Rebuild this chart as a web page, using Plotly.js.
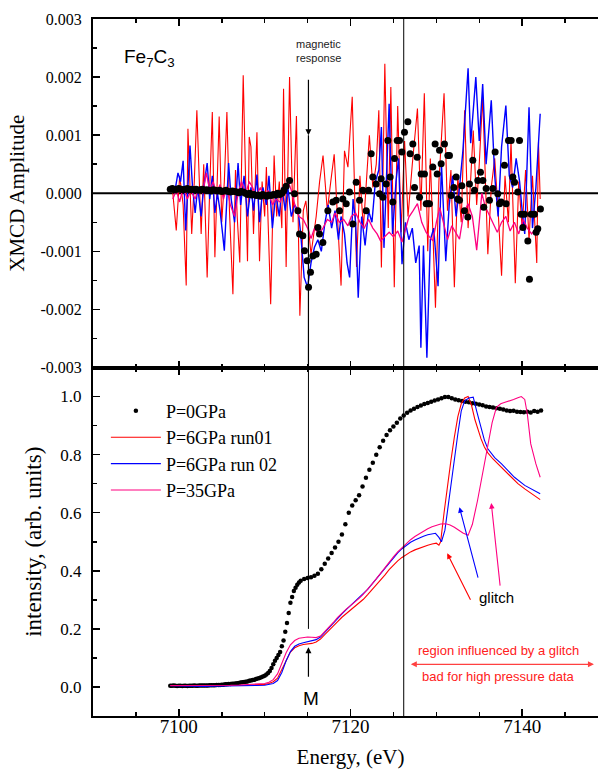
<!DOCTYPE html>
<html><head><meta charset="utf-8">
<script src="https://cdn.plot.ly/plotly-3.0.1.min.js"></script>
<style>html,body{margin:0;padding:0;overflow:hidden;background:#fff}#chart{width:610px;height:774px}</style>
</head><body><div id="chart"></div>
<script>
// ---------- Bottom panel: normalized XANES intensity ----------
const seriesNames = ['P=0GPa', 'P=6GPa run01', 'P=6GPa run 02', 'P=35GPa'];

const e0 = [7099.0,7099.2,7099.4,7099.6,7099.8,7100.0,7100.2,7100.4,7100.6,7100.8,
  7101.0,7101.2,7101.4,7101.6,7101.8,7102.0,7102.2,7102.4,7102.6,7102.8,7103.0,
  7103.2,7103.4,7103.6,7103.8,7104.0,7104.2,7104.4,7104.6,7104.8,7105.0,7105.2,7105.4,7105.6,7105.8,7106.0,
  7106.2,7106.4,7106.6,7106.8,7107.0,7107.2,7107.4,7107.6,7107.8,7108.0,
  7108.2,7108.4,7108.6,7108.8,7109.0,7109.2,7109.4,7109.6,7109.8,7110.0,
  7110.2,7110.4,7110.6,7110.8,7111.0,7111.2,7111.4,7111.6,7111.8,7112.0,
  7112.2,7112.4,7112.6,7112.8,7113.0,7113.2,7113.4,7113.6,7113.8,7114.0,
  7114.2,7114.6,
  7115.0,7115.4,7115.8,7116.2,7116.6,7117.0,7117.4,7117.8,7118.2,7118.6,
  7119.0,7119.4,7119.8,7120.2,7120.6,7121.0,7121.4,7121.8,7122.2,7122.6,
  7123.0,7123.4,7123.8,7124.2,7124.6,7125.0,7125.4,7125.8,7126.2,7126.6,
  7127.0,7127.4,7127.8,7128.2,7128.6,7129.0,7129.4,7129.8,7130.2,7130.6,
  7131.0,7131.4,7131.8,7132.2,7132.6,7133.0,7133.4,7133.8,7134.2,7134.6,
  7135.0,7135.4,7135.8,7136.2,7136.6,7137.0,7137.4,7137.8,7138.2,7138.6,
  7139.0,7139.4,7139.8,7140.2,7140.6,7141.0,7141.4,7141.8,7142.2];
const i0 = [0.004,0.004,0.005,0.004,0.003,0.004,0.004,0.003,0.004,0.004,
  0.003,0.004,0.004,0.004,0.005,0.004,0.004,0.005,0.005,0.005,0.005,
  0.005,0.005,0.006,0.006,0.006,0.006,0.007,0.007,0.007,0.008,0.008,0.009,0.009,0.010,0.010,
  0.011,0.011,0.012,0.013,0.014,0.015,0.016,0.017,0.018,0.019,
  0.021,0.022,0.024,0.025,0.027,0.029,0.031,0.033,0.036,0.039,
  0.043,0.048,0.055,0.065,0.078,0.090,0.100,0.110,0.120,0.140,
  0.160,0.190,0.220,0.255,0.290,0.310,0.330,0.342,0.352,0.360,
  0.366,0.372,
  0.375,0.378,0.383,0.390,0.405,0.424,0.442,0.461,0.480,0.500,
  0.525,0.560,0.600,0.625,0.643,0.660,0.690,0.720,0.748,0.772,
  0.800,0.825,0.848,0.868,0.884,0.897,0.910,0.924,0.935,0.944,
  0.952,0.958,0.964,0.969,0.974,0.978,0.982,0.986,0.990,0.994,
  0.998,0.998,0.994,0.990,0.987,0.985,0.982,0.980,0.977,0.975,
  0.973,0.970,0.966,0.964,0.962,0.960,0.958,0.955,0.952,0.950,
  0.951,0.948,0.947,0.946,0.948,0.945,0.950,0.948,0.952];

const eR = [7099.0,7100,7101,7102,7103,7104,7105,7106,7107,7108,
  7109,7110,7110.5,7111.0,7111.5,7112.0,7112.5,7113.0,7113.5,7114.0,
  7114.5,7115.0,7115.5,7116.0,7116.5,7117.0,7117.5,7118.0,7118.5,7119.0,
  7119.5,7120.0,7120.5,7121.0,7121.5,7122.0,7122.5,7123.0,7123.5,7124.0,
  7124.5,7125.0,7125.5,7126.0,7126.5,7127.0,7127.5,7128.0,7128.5,7129.0,
  7129.5,7130.0,7130.3,7130.5,7130.9,7131.3,7131.7,7132.1,7132.5,7132.9,
  7133.3,7133.7,7134.1,7134.5,7134.8,7135.2,7135.6,7136.0,7136.6,7137.2,
  7138.0,7138.7,7139.5,7140.3,7141.2,7142.1];
const iR = [0.004,0.004,0.003,0.004,0.003,0.004,0.004,0.005,0.005,0.006,
  0.007,0.009,0.012,0.018,0.030,0.060,0.095,0.120,0.135,0.142,
  0.146,0.148,0.150,0.155,0.165,0.180,0.196,0.210,0.225,0.240,
  0.252,0.264,0.276,0.288,0.302,0.318,0.334,0.350,0.366,0.385,
  0.404,0.420,0.434,0.446,0.456,0.465,0.472,0.478,0.484,0.488,
  0.492,0.495,0.488,0.500,0.600,0.700,0.780,0.860,0.930,0.975,
  0.995,1.000,0.970,0.920,0.890,0.855,0.826,0.806,0.785,0.768,
  0.742,0.722,0.700,0.682,0.662,0.645];

const eB = [7099.0,7100,7101,7102,7103,7104,7105,7106,7107,7108,
  7109,7110,7110.5,7111.0,7111.5,7112.0,7112.5,7113.0,7113.5,7114.0,
  7114.5,7115.0,7115.5,7116.0,7116.5,7117.0,7117.5,7118.0,7118.5,7119.0,
  7119.5,7120.0,7120.5,7121.0,7121.5,7122.0,7122.5,7123.0,7123.5,7124.0,
  7124.5,7125.0,7125.5,7126.0,7126.5,7127.0,7127.5,7128.0,7128.5,7129.0,
  7129.5,7129.9,7130.3,7130.6,7131.0,7131.3,7131.7,7132.1,7132.5,7132.9,
  7133.3,7133.8,7134.3,7134.7,7135.2,7135.6,7136.0,7136.8,7137.6,7138.3,
  7139.1,7140.3,7141.2,7142.1];
const iB = [0.004,0.003,0.003,0.003,0.002,0.003,0.003,0.003,0.004,0.004,
  0.005,0.006,0.008,0.012,0.022,0.050,0.090,0.122,0.140,0.148,
  0.152,0.155,0.158,0.163,0.172,0.188,0.205,0.222,0.238,0.252,
  0.266,0.280,0.292,0.305,0.320,0.336,0.354,0.372,0.392,0.412,
  0.430,0.447,0.462,0.476,0.488,0.498,0.506,0.513,0.519,0.524,
  0.528,0.529,0.515,0.500,0.540,0.610,0.700,0.780,0.870,0.950,
  0.985,0.995,0.998,0.950,0.894,0.850,0.820,0.790,0.768,0.745,
  0.722,0.694,0.680,0.665];

const eP = [7099.0,7100,7101,7102,7103,7104,7105,7106,7107,7108,
  7109,7110,7110.5,7111.0,7111.5,7112.0,7112.5,7113.0,7113.5,7114.0,
  7114.5,7115.0,7115.5,7116.0,7116.5,7117.0,7117.5,7118.0,7118.5,7119.0,
  7119.5,7120.0,7120.5,7121.0,7121.5,7122.0,7122.5,7123.0,7123.5,7124.0,
  7124.5,7125.0,7125.5,7126.0,7126.5,7127.0,7127.5,7128.0,7128.5,7129.0,
  7129.5,7130.0,7130.5,7131.1,7131.6,7132.1,7132.6,7133.1,7133.7,7134.2,
  7134.8,7135.4,7136.0,7136.5,7137.0,7137.5,7138.0,7138.5,7139.0,7139.5,
  7139.9,7140.3,7140.6,7141.0,7141.3,7141.6,7142.1];
const iP = [0.005,0.005,0.004,0.005,0.004,0.005,0.005,0.006,0.007,0.008,
  0.009,0.012,0.016,0.025,0.045,0.080,0.118,0.145,0.160,0.168,
  0.171,0.172,0.171,0.170,0.175,0.190,0.206,0.222,0.240,0.255,
  0.268,0.280,0.292,0.305,0.320,0.336,0.354,0.372,0.392,0.412,
  0.430,0.448,0.465,0.480,0.494,0.507,0.518,0.528,0.537,0.545,
  0.552,0.557,0.561,0.562,0.558,0.550,0.540,0.530,0.522,0.560,
  0.642,0.740,0.837,0.910,0.963,0.975,0.980,0.984,0.990,0.996,
  1.000,0.990,0.940,0.837,0.800,0.768,0.722];

// ---------- Top panel: XMCD amplitude (values in units of 1e-3) ----------
const xmE0 = [7099.0,7099.25,7099.5,7099.75,7100.0,7100.25,7100.5,7100.75,7101.0,7101.25,
  7101.5,7101.75,7102.0,7102.25,7102.5,7102.75,7103.0,7103.25,7103.5,7103.75,
  7104.0,7104.25,7104.5,7104.75,7105.0,7105.25,7105.5,7105.75,7106.0,7106.25,
  7106.5,7106.75,7107.0,7107.25,7107.5,7107.75,7108.0,7108.25,7108.5,7108.75,
  7109.0,7109.25,7109.5,7109.75,7110.0,7110.25,7110.5,7110.75,7111.0,7111.25,
  7111.5,7111.75,7112.0,7112.25,7112.5,7112.9,
  7113.48,7113.87,7114.06,7114.45,7114.64,7114.95,7115.11,7115.34,7115.61,7116.0,
  7116.2,7116.39,7116.78,7117.36,7117.94,7118.33,7118.72,7119.11,7119.5,7119.88,
  7120.27,7120.66,7121.05,7121.44,7121.83,7122.1,7122.41,7122.6,7122.99,7123.38,
  7123.57,7123.77,7124.16,7124.35,7124.62,7124.93,7125.13,7125.44,7125.71,7125.98,
  7126.29,7126.68,7126.95,7127.26,7127.46,7127.77,7128.04,7128.23,7128.62,7128.82,
  7129.01,7129.2,7129.59,7129.86,7130.1,7130.37,7130.56,7130.95,7131.34,7131.53,
  7131.73,7132.04,7132.31,7132.5,7132.7,7132.97,7133.28,7133.67,7133.86,7134.25,
  7134.45,7134.83,7135.14,7135.42,7135.53,7135.8,7136.19,7136.58,7136.85,7137.16,
  7137.36,7137.55,7137.94,7138.13,7138.41,7138.72,7138.91,7139.11,7139.49,7139.69,
  7139.88,7140.08,7140.27,7140.66,7140.85,7141.05,7141.43,7141.63,7141.82,7142.13];
const xm0 = [0.07,0.08,0.06,0.07,0.08,0.07,0.06,0.07,0.08,0.06,
  0.07,0.06,0.07,0.05,0.06,0.07,0.05,0.06,0.05,0.04,
  0.06,0.05,0.04,0.05,0.03,0.04,0.05,0.03,0.02,0.04,
  0.03,0.02,0.01,0.03,0.02,0.00,-0.02,0.00,-0.03,-0.02,
  -0.04,-0.03,-0.05,-0.02,-0.04,-0.05,-0.03,-0.04,-0.02,-0.03,
  0.00,-0.02,0.00,0.05,0.12,0.22,
  -0.01,-0.30,-0.70,-0.73,-0.99,-1.16,-1.62,-1.36,-1.08,-1.05,
  -0.59,-0.70,-0.85,-0.30,-0.15,-0.12,-0.30,-0.10,-0.18,0.02,
  -0.53,0.19,-0.12,0.05,-0.30,0.05,0.68,0.28,0.16,-0.01,
  0.25,-0.07,0.16,0.91,0.28,-0.15,0.60,0.91,0.91,0.71,
  1.05,1.23,0.68,0.85,0.10,0.62,-0.07,0.33,0.33,-0.18,
  -0.18,-0.18,0.45,0.85,0.33,0.74,0.51,0.85,0.65,0.65,
  -0.04,0.10,0.28,-0.10,-0.12,0.13,-0.30,-0.41,0.16,0.57,
  0.05,0.22,0.36,0.22,-0.24,0.08,-0.12,0.08,0.71,-0.01,
  -0.18,-0.15,0.48,-0.18,0.91,0.91,0.28,0.19,0.02,0.91,
  -0.36,-0.59,-0.36,-0.82,-1.48,-0.36,-0.36,-0.67,-0.61,-0.27];

const xmER = [7099.3,7099.7,7100.1,7100.5,7100.86,7101.06,7101.5,7101.8,7102.1,7102.6,
  7102.9,7103.3,7103.6,7103.9,7104.2,7104.5,7104.7,7105.0,7105.3,7105.6,
  7105.9,7106.3,7106.6,7106.8,7107.1,7107.5,7108.0,7108.2,7108.4,7108.7,
  7109.1,7109.4,7109.7,7110.0,7110.2,7110.7,7111.1,7111.4,7111.7,7112.0,
  7112.2,7112.5,7112.9,7113.3,7113.7,7114.1,7114.5,7114.8,7115.4,7116.0,
  7116.4,7116.8,7117.3,7117.7,7118.1,7118.9,7119.3,7119.7,7120.2,7120.7,
  7121.1,7121.5,7121.8,7122.2,7122.6,7123.0,7123.3,7123.6,7124.0,7124.4,
  7124.7,7125.1,7125.5,7125.9,7126.3,7126.7,7127.2,7127.8,7128.2,7128.6,
  7129.0,7129.3,7129.9,7130.3,7130.9,7131.3,7131.7,7132.1,7132.5,7132.9,
  7133.3,7133.7,7134.3,7134.7,7135.0,7135.4,7136.0,7136.4,7136.8,7137.2,
  7137.6,7138.0,7138.4,7138.7,7139.2,7139.6,7140.0,7140.4,7140.8,7141.2,
  7141.7,7141.9,7142.1];
const xmR = [0.00,-0.64,0.30,-0.20,-1.59,1.11,-0.70,0.20,1.43,-0.70,
  0.50,-1.45,0.10,1.40,-1.10,0.30,1.32,-0.50,0.20,1.40,
  -0.30,-1.74,0.40,-0.40,-1.19,2.03,-1.17,0.97,0.80,-0.70,
  1.05,-1.17,0.20,-0.40,0.45,-1.91,0.65,-0.40,0.20,-0.60,
  1.80,-1.27,2.00,-0.50,1.33,-2.11,-0.30,-0.13,-1.05,-0.40,
  0.20,0.65,-0.30,0.20,0.67,-1.59,0.73,0.45,1.66,-1.27,
  0.30,-0.60,0.10,1.00,0.10,0.50,1.43,-1.28,2.23,-0.60,
  1.83,-1.62,1.50,-0.67,0.90,-0.40,0.50,1.46,-0.30,1.72,
  -1.00,0.60,-1.97,0.20,1.72,-0.30,0.40,-1.62,0.30,-0.50,
  1.43,-0.60,1.08,-0.20,0.50,1.66,-1.05,0.10,0.60,-0.30,
  -1.42,0.30,-0.50,0.90,-1.55,0.20,-0.60,0.40,-0.80,0.30,
  -1.20,0.88,-0.10];

const xmEB = [7099.1,7099.5,7099.9,7100.2,7100.5,7100.8,7101.3,7101.6,7101.9,7102.2,
  7102.6,7102.9,7103.3,7103.6,7103.9,7104.2,7104.5,7104.8,7105.1,7105.3,
  7105.8,7106.1,7106.5,7106.9,7107.2,7107.6,7108.0,7108.4,7108.7,7109.1,
  7109.4,7109.8,7110.2,7110.5,7110.9,7111.3,7111.7,7112.0,7112.4,7112.7,
  7113.1,7113.5,7113.9,7114.2,7114.6,7115.0,7115.4,7115.8,7116.2,7116.6,
  7117.0,7117.4,7117.8,7118.2,7118.6,7118.9,7119.3,7119.6,7119.9,7120.3,
  7120.6,7120.9,7121.3,7121.7,7122.1,7122.5,7122.9,7123.3,7123.6,7123.9,
  7124.5,7124.9,7125.3,7125.6,7126.0,7126.4,7126.8,7127.2,7127.6,7128.0,
  7128.2,7128.5,7128.9,7129.3,7129.7,7130.2,7130.6,7131.1,7131.5,7131.9,
  7132.3,7132.7,7133.1,7133.7,7134.0,7134.6,7135.0,7135.4,7135.8,7136.4,
  7136.8,7137.2,7137.6,7138.1,7138.5,7138.9,7139.3,7139.7,7140.0,7140.3,
  7140.8,7141.2,7141.6,7142.1];
const xmB = [0.10,0.00,0.35,0.20,0.56,-0.64,0.82,0.10,-0.34,0.10,
  -0.40,0.10,0.52,-0.10,0.30,-0.34,0.00,-0.30,-0.70,-0.99,
  0.52,-0.10,-0.50,0.52,-0.20,0.30,-0.40,0.10,-0.30,0.32,
  -0.50,0.10,-0.20,0.30,-0.60,0.00,-0.40,0.10,-0.30,0.10,
  -0.40,-0.20,-0.30,-0.70,-1.45,-1.62,-1.20,-0.93,-0.80,-1.00,
  -0.53,-0.20,-0.60,-0.30,-0.80,-0.40,-0.70,-1.20,-1.45,-0.10,
  -0.50,-1.80,-0.40,-0.90,-0.30,-0.50,0.20,0.40,1.14,-0.94,
  1.54,-0.70,0.20,0.60,-1.22,-0.50,-0.80,-0.60,-1.20,-0.90,
  -2.66,-0.90,-2.83,-0.80,-0.60,-1.60,0.50,-1.17,-0.20,0.30,
  -0.40,0.10,0.74,2.15,0.86,2.00,0.90,1.88,0.50,1.60,
  0.30,-0.40,0.80,1.51,0.30,0.10,0.60,0.20,-0.30,-0.70,
  1.48,-0.60,0.10,1.37];

const xmEP = [7099.3,7099.7,7100.1,7100.5,7101.0,7101.4,7101.9,7102.3,7102.8,7103.2,
  7103.6,7104.0,7104.4,7104.8,7105.2,7105.6,7106.0,7106.5,7106.9,7107.3,
  7107.8,7108.2,7108.6,7109.0,7109.5,7110.0,7110.4,7110.9,7111.3,7111.8,
  7112.2,7112.7,7113.1,7113.6,7114.0,7114.5,7115.0,7115.4,7115.8,7116.3,
  7116.8,7117.3,7117.8,7118.2,7118.7,7119.2,7119.7,7120.1,7120.6,7121.1,
  7121.6,7122.1,7122.6,7123.1,7123.5,7124.0,7124.5,7125.0,7125.5,7126.0,
  7126.4,7126.8,7127.3,7127.8,7128.3,7128.8,7129.2,7129.6,7130.0,7130.4,
  7130.9,7131.3,7131.8,7132.3,7132.7,7133.2,7133.7,7134.2,7134.7,7135.0,
  7135.3,7135.7,7136.1,7136.6,7137.1,7137.6,7138.1,7138.6,7139.1,7139.6,
  7140.1,7140.6,7141.1,7141.6,7142.0];
const xmP = [-0.10,0.05,-0.15,0.10,-0.10,0.05,-0.10,0.10,0.00,0.35,
  0.05,0.20,0.00,0.15,-0.10,0.10,-0.20,-0.40,0.00,0.20,
  0.00,0.20,0.10,-0.05,0.10,-0.10,0.05,-0.20,-0.10,-0.15,
  0.00,0.22,0.05,-0.25,-0.40,-0.45,-0.60,-0.78,-0.60,-0.70,
  -0.60,-0.45,-0.50,-0.34,-0.50,-0.45,-0.56,-0.40,-0.34,-0.50,
  -0.60,-0.45,-0.60,-0.70,-0.82,-0.75,-0.67,-0.75,-0.65,-0.84,
  -0.60,-0.41,-0.30,-0.18,-0.50,-0.67,-0.75,-0.82,-0.50,-0.25,
  -0.55,-0.80,-0.56,-0.70,-0.79,-0.33,-0.18,-0.40,-0.98,-0.50,
  0.00,-0.23,-0.35,-0.50,-0.67,-0.50,-0.40,-0.65,-0.50,-0.70,
  -0.45,-0.60,-0.70,-0.60,-0.65];

const yTopTicks = [-0.003,-0.002,-0.001,0,0.001,0.002,0.003];
const yTopTickText = ['-0.003','-0.002','-0.001','0.000','0.001','0.002','0.003'];
const xTicks = [7100,7120,7140];

const M_ENERGY = 7115.1;
const GLITCH_ENERGY = 7126.2;

const RED = '#ff0000', BLUE = '#0000ff', PINK = '#ff0080';
const SERIF = 'Liberation Serif, Times New Roman, serif';
const SANS = 'Liberation Sans, Arial, sans-serif';
const milli = a => a.map(v => v / 1000);

const traces = [
  // top panel
  {x: xmER, y: milli(xmR), xaxis: 'x2', yaxis: 'y2', mode: 'lines', line: {color: RED, width: 1.1}, showlegend: false},
  {x: xmEB, y: milli(xmB), xaxis: 'x2', yaxis: 'y2', mode: 'lines', line: {color: BLUE, width: 1.4}, showlegend: false},
  {x: xmEP, y: milli(xmP), xaxis: 'x2', yaxis: 'y2', mode: 'lines', line: {color: PINK, width: 1.3}, showlegend: false},
  {x: xmE0, y: milli(xm0), xaxis: 'x2', yaxis: 'y2', mode: 'markers', marker: {color: '#000', size: 7}, showlegend: false},
  // bottom panel
  {x: e0, y: i0, name: seriesNames[0], mode: 'markers', marker: {color: '#000', size: 4.5}},
  {x: eR, y: iR, name: seriesNames[1], mode: 'lines', line: {color: RED, width: 1.1}},
  {x: eB, y: iB, name: seriesNames[2], mode: 'lines', line: {color: BLUE, width: 1.1}},
  {x: eP, y: iP, name: seriesNames[3], mode: 'lines', line: {color: PINK, width: 1.1}}
];

const axBase = {
  showline: true, linecolor: '#000', linewidth: 2, mirror: 'ticks',
  ticks: 'inside', ticklen: 7, tickwidth: 1.5, tickcolor: '#000',
  showgrid: false, zeroline: false, automargin: false
};

const layout = {
  width: 610, height: 774,
  margin: {l: 93, r: 2, t: 19, b: 58},
  paper_bgcolor: '#fff', plot_bgcolor: '#fff',
  showlegend: true,
  font: {family: SERIF, color: '#000'},
  xaxis: Object.assign({}, axBase, {
    anchor: 'y', domain: [0, 1], range: [7090, 7150],
    tickvals: xTicks, tickfont: {family: SERIF, size: 19}, ticklabelstandoff: -8,
    minor: {dtick: 5, tick0: 7100, ticks: 'inside', ticklen: 4, tickwidth: 1.5, tickcolor: '#000'},
    title: {text: 'Energy, (eV)', font: {family: SERIF, size: 21}, standoff: 14}
  }),
  yaxis: Object.assign({}, axBase, {
    anchor: 'x', domain: [0, 0.5], range: [-0.1, 1.1],
    tickvals: [0, 0.2, 0.4, 0.6, 0.8, 1.0], tickformat: '.1f',
    tickfont: {family: SERIF, size: 17}, ticklabelstandoff: 6,
    minor: {dtick: 0.1, tick0: 0, ticks: 'inside', ticklen: 4, tickwidth: 1.5, tickcolor: '#000'},
    title: {text: 'intensity, (arb. units)', font: {family: SERIF, size: 23}, standoff: 12}
  }),
  xaxis2: Object.assign({}, axBase, {
    anchor: 'y2', matches: 'x', range: [7090, 7150], showticklabels: false,
    tickvals: xTicks,
    minor: {dtick: 5, tick0: 7100, ticks: 'inside', ticklen: 4, tickwidth: 1.5, tickcolor: '#000'}
  }),
  yaxis2: Object.assign({}, axBase, {
    anchor: 'x2', domain: [0.5, 1], range: [-0.003, 0.003],
    tickvals: yTopTicks, ticktext: yTopTickText,
    tickfont: {family: SERIF, size: 16}, ticklabelstandoff: 6,
    minor: {dtick: 0.0005, tick0: 0, ticks: 'inside', ticklen: 4, tickwidth: 1.5, tickcolor: '#000'},
    title: {text: 'XMCD Amplitude', font: {family: SERIF, size: 21}, standoff: 10}
  }),
  legend: {
    x: 0.025, y: 0.464, xanchor: 'left', yanchor: 'top',
    bgcolor: 'rgba(0,0,0,0)', font: {family: SERIF, size: 18}, itemwidth: 50,
    tracegroupgap: 0
  },
  shapes: [
    {type: 'line', xref: 'x2', yref: 'y2', x0: 7090, x1: 7150, y0: 0, y1: 0, line: {color: '#000', width: 2}, layer: 'below'},
    {type: 'line', xref: 'x', yref: 'paper', x0: GLITCH_ENERGY, x1: GLITCH_ENERGY, y0: 0, y1: 1, line: {color: '#000', width: 1}},
    {type: 'line', xref: 'x2', yref: 'y2', x0: M_ENERGY, x1: M_ENERGY, y0: 0.001, y1: -0.003, line: {color: '#000', width: 1.2}},
    {type: 'line', xref: 'x', yref: 'y', x0: M_ENERGY, x1: M_ENERGY, y0: 0.2, y1: 1.1, line: {color: '#000', width: 1}}
  ],
  annotations: [
    {xref: 'x2', yref: 'y2', x: 7093.4, y: 0.00233, xanchor: 'left', yanchor: 'middle', showarrow: false,
     text: 'Fe<sub>7</sub>C<sub>3</sub>', font: {family: SANS, size: 19, color: '#000'}},
    {xref: 'x2', yref: 'y2', x: 7113.4, y: 0.00245, xanchor: 'left', yanchor: 'middle', showarrow: false, align: 'left',
     text: 'magnetic<br>response', font: {family: SANS, size: 11, color: '#222'}},
    {xref: 'x2', yref: 'y2', x: M_ENERGY, y: 0.001, ax: 0, ay: -57, text: '', showarrow: true,
     arrowhead: 2, arrowsize: 1, arrowwidth: 1.2, arrowcolor: '#000'},
    {xref: 'x', yref: 'y', x: M_ENERGY, y: 0.137, ax: 0, ay: 31, text: '', showarrow: true,
     arrowhead: 2, arrowsize: 1, arrowwidth: 1.2, arrowcolor: '#000'},
    {xref: 'x', yref: 'y', x: 7115.4, y: -0.039, showarrow: false, text: 'M', font: {family: SANS, size: 19, color: '#000'}},
    {xref: 'x', yref: 'y', x: 7137.0, y: 0.308, showarrow: false, text: 'glitch', font: {family: SANS, size: 15, color: '#000'}},
    {xref: 'x', yref: 'y', x: 7131.27, y: 0.46, ax: 24, ay: 48, text: '', showarrow: true,
     arrowhead: 2, arrowsize: 1, arrowwidth: 1.1, arrowcolor: RED},
    {xref: 'x', yref: 'y', x: 7132.69, y: 0.619, ax: 19, ay: 72, text: '', showarrow: true,
     arrowhead: 2, arrowsize: 1, arrowwidth: 1.1, arrowcolor: BLUE},
    {xref: 'x', yref: 'y', x: 7136.4, y: 0.633, ax: 9, ay: 84, text: '', showarrow: true,
     arrowhead: 2, arrowsize: 1, arrowwidth: 1.1, arrowcolor: PINK},
    {xref: 'x', yref: 'y', x: 7137.2, y: 0.126, showarrow: false, text: 'region influenced by a glitch',
     font: {family: SANS, size: 13, color: '#ff2020'}},
    {xref: 'x', yref: 'y', x: 7148.36, y: 0.078, axref: 'x', ayref: 'y', ax: 7126.85, ay: 0.078, text: '',
     showarrow: true, arrowside: 'end+start', arrowhead: 2, arrowsize: 1, arrowwidth: 1.2, arrowcolor: '#ff4040'},
    {xref: 'x', yref: 'y', x: 7137.2, y: 0.037, showarrow: false, text: 'bad for high pressure data',
     font: {family: SANS, size: 13, color: '#ff2020'}}
  ]
};

Plotly.newPlot('chart', traces, layout, {displayModeBar: false, staticPlot: true});
</script></body></html>
